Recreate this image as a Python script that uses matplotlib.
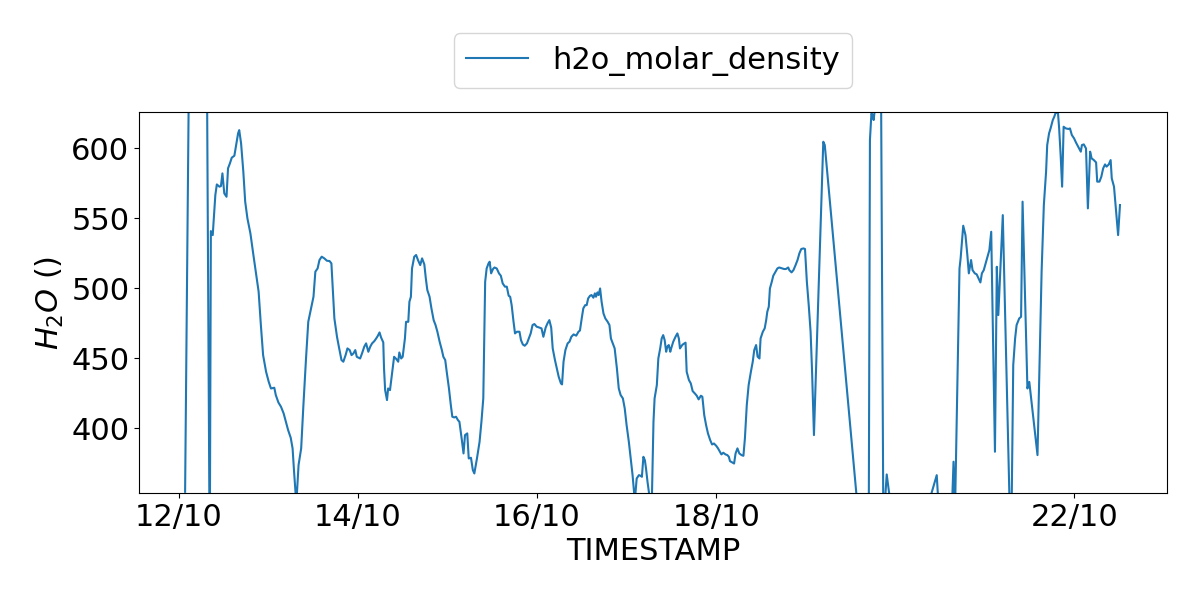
import numpy as np
import pandas as pd
import matplotlib
matplotlib.use("Agg")
import matplotlib.pyplot as plt
import matplotlib.dates as mdates

# hours after 12/10 00:00
hours = [
    1.7, 2.8, 4.4, 5.9, 7.5, 8.3, 8.6, 9.1, 9.8, 10.2, 10.9, 11.3, 11.7, 12.2, 12.8,
    13.2, 13.7, 14.2, 14.9, 15.3, 15.9, 16.2, 16.7, 17.3, 17.8, 18.4, 19.2, 20.0,
    20.9, 21.4, 22.0, 22.6, 23.4, 24.1, 24.7, 25.6, 26.0, 26.7, 27.4, 28.1, 28.7,
    29.3, 30.0, 30.5, 30.9, 31.5, 32.1, 32.8, 33.4, 34.1, 34.7,
    36.1, 36.6, 37.2, 37.7, 38.3, 39.0, 39.7, 40.4, 40.9, 41.3, 41.7, 42.4, 42.9,
    43.6, 44.1, 44.7, 45.2, 45.8, 46.3, 46.8, 47.3, 47.7, 48.6, 49.1, 49.7, 50.2,
    50.8, 51.3, 51.8, 52.4, 52.9, 53.3, 53.8, 54.2, 54.8, 55.0, 55.3, 55.8, 56.1,
    56.6, 57.2, 57.7, 58.3, 58.8, 59.1, 59.6, 60.0, 60.6, 60.9, 61.5, 61.8, 62.2,
    62.5, 63.1, 63.6, 64.1, 64.7, 65.2, 65.8, 66.2, 66.6, 67.2, 67.7, 68.3, 68.8,
    69.3, 69.9, 70.5, 70.9, 71.4, 71.8, 72.4, 72.9, 73.3, 73.8, 74.3, 74.8, 75.2,
    75.8, 76.3, 76.7, 77.3, 77.7, 78.3, 78.8, 79.2, 79.9, 80.6, 81.1, 81.6,
    82.1, 82.5, 83.0, 83.3, 83.7, 84.2, 84.6, 85.2, 85.8, 86.3, 86.8, 87.4, 87.9,
    88.4, 88.8, 89.2, 89.7, 90.1, 90.6, 91.3, 91.7, 92.2, 92.7, 93.3, 93.8, 94.3,
    94.8, 95.3, 95.9, 96.5, 97.2, 97.7, 98.3, 98.8, 99.3, 99.8, 100.2, 100.8,
    101.3, 101.8, 102.4, 102.7, 103.1, 103.6, 104.2, 104.7, 105.2, 105.8, 106.5,
    107.1, 107.5, 108.0, 108.4, 108.9, 109.3, 109.7, 110.2, 110.6, 111.1, 111.5,
    111.8, 112.2, 112.5, 112.9, 113.3, 113.8, 114.3, 114.9, 115.4, 115.8, 116.3,
    116.8, 117.4, 117.9, 118.4, 119.0, 119.5, 120.0, 120.6, 121.1, 121.6, 122.2,
    122.7, 123.3, 123.8, 124.1, 124.5, 124.9, 125.2, 125.6, 126.7,
    127.2, 127.5, 128.1, 128.5, 129.0, 129.4, 129.8, 130.2, 130.6, 130.9, 131.3,
    131.7, 132.0, 132.5, 133.1, 133.6, 134.0, 134.3, 134.9, 135.2, 135.8, 136.1,
    136.7, 137.2, 137.7, 138.3, 138.8, 139.3, 139.9, 140.3, 140.8, 141.3, 141.8,
    142.4, 142.9, 143.4, 144.0, 144.5, 145.0, 145.4, 145.9, 146.5, 147.0, 147.4,
    147.7, 148.3, 148.8, 149.2, 149.7, 150.2, 150.8, 151.3, 151.7, 152.2, 152.7,
    153.3, 153.8, 154.2, 154.7, 155.1, 155.6, 155.9, 156.5, 157.0, 157.4, 157.7,
    158.1, 158.4, 158.9, 159.3, 159.9, 160.4, 160.9, 161.7, 162.2, 162.7, 163.3,
    163.6, 164.2, 164.7, 165.2, 165.8, 166.3, 166.8, 167.4, 167.8, 168.3, 168.8,
    169.3, 169.7, 170.2, 172.7, 173.1,
    184.8, 185.2, 185.6, 185.9, 186.2, 186.6, 187.5, 188.2, 188.8, 189.7, 191.0,
    195.0, 198.6, 203.1, 203.8, 207.2, 207.6, 208.0, 209.2, 209.5, 210.2, 210.8,
    211.3, 211.7, 212.3, 212.7, 213.3, 213.8, 214.3, 214.8, 215.2, 215.7, 216.2,
    216.7, 217.2, 217.7,
    218.7, 219.2, 219.6, 220.8, 223.0, 223.6, 224.1, 224.5, 225.2, 225.7, 226.1,
    227.4, 227.9, 230.1, 231.2, 231.8, 232.4, 232.7, 233.2, 233.6, 234.2, 234.6,
    235.0, 235.6, 235.9, 236.3, 236.7, 237.1, 237.7, 238.4, 238.8, 239.3, 239.9,
    240.4, 241.0, 241.7, 242.0, 242.5, 243.1, 243.6, 244.2, 244.6, 245.2, 245.8,
    246.1, 246.7, 247.2, 247.7, 248.2, 248.6, 249.2, 249.7, 250.0, 250.6, 251.1,
    251.7, 252.2,
]

h2o = [
    354.5, 675, 700, 695, 680, 300, 540.7, 537.8, 566.4, 574, 572.4, 572.8, 581.9, 567.6, 565.2,
    585.5, 589, 593.1, 594.5, 601, 610.5, 612.8, 603.3, 583.1, 561.7, 549.7, 539, 523.6,
    506.9, 497.4, 473.6, 452.1, 440.2, 433.1, 428.3, 428.8, 423.6, 418.3, 415.2, 410.5, 404.5,
    398.6, 393.1, 385.5, 368.8, 346, 373.6, 385.5, 416.4, 449.7, 475.9,
    493.8, 511.7, 514, 520, 522.4, 521.2, 519.5, 519.3, 517.6, 497.4, 478.3, 465.2, 458.1,
    448.6, 447.4, 452.1, 456.9, 455.7, 452.1, 453.3, 455.7, 450.9, 449.7, 453.3, 458.1, 460.5,
    454.5, 458.1, 460.5, 462.1, 464, 465.7, 468.3, 464.8, 461.2, 442.6, 427.1, 420, 428.3,
    427.1, 440.2, 450.9, 449.3, 447.4, 454, 449.7, 450.9, 464, 475.9, 475.9, 490.2, 493.8,
    514, 522.4, 523.6, 520, 516.4, 521.2, 516.9, 506.9, 498.6, 493.8, 485.5, 477.1, 473.6,
    468.8, 461.7, 455.7, 450.9, 448.6, 440.2, 428.3, 416.4, 408.1, 407.6, 408.1, 405.7, 404.5,
    392.6, 381.9, 395, 396.2, 378.3, 378.8, 370, 367.6, 378.3, 390.2, 404.5, 421.2,
    504.5, 514, 517.6, 518.8, 510.5, 513.6, 514.7, 514, 510.5, 508.8, 503.3, 501, 501,
    494.5, 493.8, 487.8, 476, 467.6, 468.8, 468.8, 462.8, 459.7, 458.8, 460.5, 464, 467.6,
    473.6, 474.3, 472.4, 471.9, 471.2, 465.2, 471.7, 474.8, 477.1, 471.7, 456.9, 448.6,
    442.6, 436.7, 431.9, 431.2, 447.4, 455.7, 460.5, 461.7, 465.2, 466.9, 466,
    468.8, 469.7, 478.8, 485.5, 487.8, 487.8, 492.6, 494.5, 495, 493.1, 496.2,
    493.8, 496.9, 495, 499.7, 490.2, 481.9, 478.3, 476, 473.6, 464, 460.5,
    456.9, 442.6, 428.3, 423.6, 421.2, 414, 402.1, 390.2, 378.3, 366.4, 348,
    364, 366.4, 365.9, 365.2, 379.5, 377, 371.2, 361.7, 340,
    404.5, 421.2, 430.7, 449.7, 456.9, 464, 466.4, 462.8, 454.5, 458.1, 459.3,
    454.5, 457.4, 461.7, 465.2, 467.6, 464, 456.9, 459.3, 460, 461, 440.2,
    434.3, 431.9, 426.4, 424.7, 423.1, 420.5, 423.1, 422.4, 409.3, 402.1, 396.2,
    391.4, 388.3, 389, 387.4, 385.5, 383.1, 381.2, 382.4, 381.2, 380.7, 379.5,
    376.4, 375.5, 374.7, 381.9, 385.5, 381.9, 380.7, 380.2, 392.6, 416.4, 430.7,
    440.2, 447.4, 455.7, 459.3, 451, 449.7, 464, 468.8, 471.2, 477.1, 483.1,
    486.7, 499.7, 504.5, 508.8, 511.7, 514, 514.7, 514, 513.6, 513.6, 514.7,
    512.8, 511.2, 512.8, 515.9, 520, 524.8, 527.9, 528.3, 527.9, 504.5, 487.8,
    468.8, 440.2, 395, 604.5, 602.1,
    258, 605.7, 624.7, 623.5, 620, 630, 635, 632, 330, 366.9, 340,
    330, 325, 366.4, 335, 345, 376, 340, 514, 521.2, 544.5, 537.8,
    523.6, 510.5, 520, 512.8, 510.5, 509.8, 506.9, 504, 510.5, 512.8, 517.6,
    522.4, 527.1, 540.2,
    383.1, 515.2, 480.7, 552.1, 303, 445, 464, 473.6, 478.3, 479.5, 561.7,
    428.3, 433, 380.7, 511.7, 559.3, 583.1, 602.1, 610.5, 614, 620, 622.4,
    625.5, 624.7, 614, 595, 572.4, 615.2, 614, 613.6, 614, 609.3, 606.9,
    604, 601, 597.4, 602.1, 602.6, 599.7, 556.9, 597.4, 592.6, 591.4, 589.7,
    576, 576, 579.5, 585.5, 588.3, 586.7, 588.3, 591.4, 578.3, 572.4, 556.9,
    537.8, 559.3,
]

tick_days = ["2023-10-12", "2023-10-14", "2023-10-16", "2023-10-18", "2023-10-22"]

start = pd.Timestamp("2023-10-12")
timestamps = start + pd.to_timedelta(np.array(hours), unit="h")
df = pd.DataFrame({"TIMESTAMP": timestamps, "h2o_molar_density": h2o})

fig = plt.figure(figsize=(12, 6), dpi=100)
ax = fig.add_axes([0.116, 0.178, 0.8565, 0.6355])
ax.plot(df["TIMESTAMP"], df["h2o_molar_density"], color="tab:blue", lw=1.5,
        label="h2o_molar_density")

ax.set_ylim(353.5, 625.8)
ax.set_xlim(start + pd.Timedelta(hours=-10.6), start + pd.Timedelta(hours=264.8))
ax.set_xticks(pd.to_datetime(tick_days))
ax.xaxis.set_major_formatter(mdates.DateFormatter("%d/%m"))
ax.set_yticks([400, 450, 500, 550, 600])
ax.tick_params(labelsize=22)

ax.set_xlabel("TIMESTAMP", fontsize=22)
ax.set_ylabel("$H_2O$ ()", fontsize=22)
ax.legend(loc="lower center", bbox_to_anchor=(0.5, 1.023), fontsize=22)

fig.savefig("out.png", dpi=100)
